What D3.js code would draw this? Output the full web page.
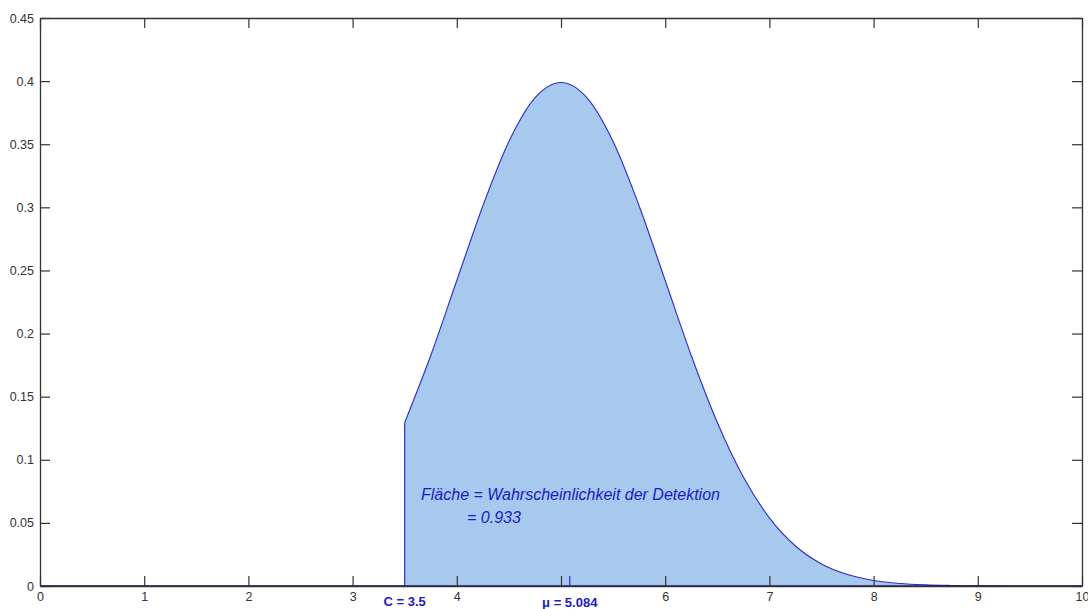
<!DOCTYPE html>
<html>
<head>
<meta charset="utf-8">
<script src="https://cdn.jsdelivr.net/npm/d3@7"></script>
<style>
  body { margin: 0; background: #fff; }
  svg { font-family: "Liberation Sans", Arial, sans-serif; }
</style>
</head>
<body>
<div id="container"></div>
<script>
let w = 1088;
let h = 609;
let margin = {left: 40, right: 6, top: 18, bottom: 23};

// values
let xTicks = [0, 1, 2, 3, 4, 5, 6, 7, 8, 9, 10];
let xTickLabels = ["0", "1", "2", "3", "4", "", "6", "7", "8", "9", "10"];
let yTicks = [0, 0.05, 0.1, 0.15, 0.2, 0.25, 0.3, 0.35, 0.4, 0.45];
let yTickLabels = ["0", "0.05", "0.1", "0.15", "0.2", "0.25", "0.3", "0.35", "0.4", "0.45"];

let curveX = [3.5, 3.75, 4, 4.25, 4.5, 4.75, 5, 5.25, 5.5, 5.75, 6, 6.25, 6.5, 6.75, 7, 7.25, 7.5, 7.75, 8, 8.25, 8.5, 8.75, 9, 9.5, 10];
let curveY = [0.1295, 0.1826, 0.2420, 0.3011, 0.3521, 0.3867, 0.3989, 0.3867, 0.3521, 0.3011, 0.2420, 0.1826, 0.1295, 0.0863, 0.0540, 0.0317, 0.0175, 0.0091, 0.0044, 0.0020, 0.0009, 0.0004, 0.0001, 0.0000, 0.0000];

let criterion = 3.5;
let mu = 5.084;
let markerLabels = ["C = 3.5", "\u03bc = 5.084"];
let markerX = [criterion, mu];
let noteLines = ["Fl\u00e4che = Wahrscheinlichkeit der Detektion", "= 0.933"];

let viz = d3.select("#container").append("svg")
    .attr("width", w)
    .attr("height", h);

let xScale = d3.scaleLinear().domain([0, 10]).range([margin.left, w - margin.right]);
let yScale = d3.scaleLinear().domain([0, 0.45]).range([h - margin.bottom, margin.top]);

let pts = curveX.map((x, i) => [x, curveY[i]]);

// filled area right of criterion
let area = d3.area()
    .x(d => xScale(d[0]))
    .y0(yScale(0))
    .y1(d => yScale(d[1]))
    .curve(d3.curveMonotoneX);

viz.append("path")
    .datum(pts)
    .attr("d", area)
    .attr("fill", "#a8c9ee")
    .attr("stroke", "none");

// outline: baseline from 0, vertical at C, then curve
let line = d3.line()
    .x(d => xScale(d[0]))
    .y(d => yScale(d[1]));
viz.append("path")
    .attr("d", line([[0, 0], [criterion, 0], [criterion, curveY[0]]]))
    .attr("fill", "none")
    .attr("stroke", "#2b2bcc")
    .attr("stroke-width", 1.2);
viz.append("path")
    .datum(pts)
    .attr("d", d3.line().x(d => xScale(d[0])).y(d => yScale(d[1])).curve(d3.curveMonotoneX))
    .attr("fill", "none")
    .attr("stroke", "#2b2bcc")
    .attr("stroke-width", 1.1);
viz.append("line")
    .attr("x1", xScale(0)).attr("x2", xScale(10))
    .attr("y1", yScale(0)).attr("y2", yScale(0))
    .attr("stroke", "#1a1a70")
    .attr("stroke-width", 1.5);

// axes (ticks pointing inward, on all four sides)
let xAxisB = d3.axisBottom(xScale).tickValues(xTicks).tickSizeInner(-10).tickSizeOuter(0)
    .tickPadding(6)
    .tickFormat((d, i) => xTickLabels[i]);
let xAxisT = d3.axisTop(xScale).tickValues(xTicks).tickSizeInner(-10).tickSizeOuter(0).tickFormat("");
let yAxisL = d3.axisLeft(yScale).tickValues(yTicks).tickSizeInner(-10).tickSizeOuter(0)
    .tickPadding(6)
    .tickFormat((d, i) => yTickLabels[i]);
let yAxisR = d3.axisRight(yScale).tickValues(yTicks).tickSizeInner(-10).tickSizeOuter(0).tickFormat("");

function styleAxis(g) {
  g.select(".domain").attr("stroke", "#333").attr("stroke-width", 1.3);
  g.selectAll(".tick line").attr("stroke", "#333").attr("stroke-width", 1.2);
  g.selectAll(".tick text").attr("fill", "#333").style("font-size", "12.5px");
}

viz.append("g").attr("transform", "translate(0," + yScale(0) + ")").call(xAxisB).call(styleAxis);
viz.append("g").attr("transform", "translate(0," + yScale(0.45) + ")").call(xAxisT).call(styleAxis);
viz.append("g").attr("transform", "translate(" + xScale(0) + ",0)").call(yAxisL).call(styleAxis);
viz.append("g").attr("transform", "translate(" + xScale(10) + ",0)").call(yAxisR).call(styleAxis);

// blue tick at mu
viz.append("line")
    .attr("x1", xScale(mu)).attr("x2", xScale(mu))
    .attr("y1", yScale(0)).attr("y2", yScale(0) - 10)
    .attr("stroke", "#2b2bcc").attr("stroke-width", 1.2);

// marker labels under the axis
viz.selectAll("text.marker")
    .data(markerX)
    .enter().append("text")
    .attr("class", "marker")
    .attr("x", d => xScale(d))
    .attr("y", (d, i) => i === 0 ? 606 : 607)
    .attr("text-anchor", "middle")
    .attr("fill", "#1a1acc")
    .style("font-size", "13px")
    .style("font-weight", "bold")
    .text((d, i) => markerLabels[i]);

// annotation inside the area
viz.append("text")
    .attr("x", 421).attr("y", 500)
    .attr("fill", "#1a1acc")
    .style("font-size", "16px")
    .style("font-style", "italic")
    .text(noteLines[0]);
viz.append("text")
    .attr("x", 467).attr("y", 523)
    .attr("fill", "#1a1acc")
    .style("font-size", "16px")
    .style("font-style", "italic")
    .text(noteLines[1]);
</script>
</body>
</html>
